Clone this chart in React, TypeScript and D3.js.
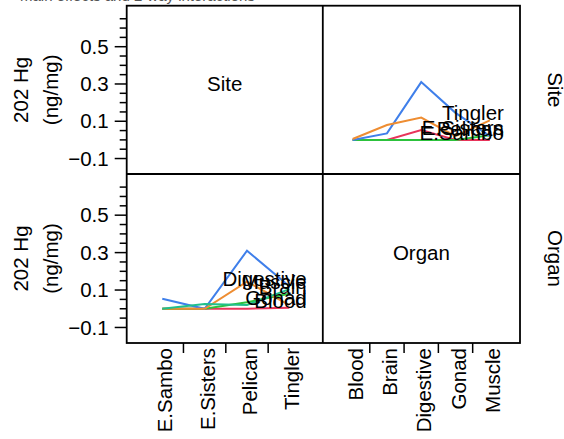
import { useEffect, useRef } from "react";
import * as d3 from "d3";

// cell means of 202 Hg (ng/mg), one array per site, over the organs
const sites = ["E.Sambo", "E.Sisters", "Pelican", "Tingler"];
const organs = ["Blood", "Brain", "Digestive", "Gonad", "Muscle"];
const eSambo = [0, 0, 0.053, 0, 0];
const eSisters = [0, 0, 0, 0, 0.025];
const pelican = [0, 0.035, 0.31, 0.145, 0.02];
const tingler = [0.005, 0.08, 0.12, 0.02, 0.105];
const siteMeans = [eSambo, eSisters, pelican, tingler];

const yMajor = [-0.1, 0.1, 0.3, 0.5];
const yMinor = d3.range(-0.1, 0.651, 0.05);
const palette = ["#e8345a", "#2cc23c", "#3f7fea", "#ee8d32", "#20bf8c"];
const yTitle = ["202 Hg", "(ng/mg)"];

export default function App() {
  const ref = useRef<SVGSVGElement | null>(null);

  useEffect(() => {
    if (!ref.current) return;
    const svg = d3.select(ref.current);
    svg.selectAll("*").remove();

    const font = "'Liberation Sans', Arial, sans-serif";
    const fs = 20.5;
    const x0 = 126.7, x1 = 322.8, x2 = 520;
    const y0 = 5.7, y1 = 174, y2 = 343;

    const yTop = d3.scaleLinear().domain([-0.183, 0.72]).range([y1, y0]);
    const yBot = d3.scaleLinear().domain([-0.183, 0.72]).range([y2, y1]);
    const xSite = d3.scaleLinear().domain([0.16, 4.79]).range([x0, x1]);
    const xOrgan = d3.scaleLinear().domain([0.13, 5.88]).range([x1, x2]);

    // main title, mostly above the page edge
    svg.append("text")
      .attr("x", 20).attr("y", 0.8)
      .attr("fill", "#555")
      .attr("font-family", font).attr("font-size", 15)
      .text("main effects and 2-way interactions");

    // trace panels
    const drawTrace = (
      xs: d3.ScaleLinear<number, number>,
      ys: d3.ScaleLinear<number, number>,
      levels: string[],
      series: number[][],
      names: string[]
    ) => {
      const g = svg.append("g");
      const line = d3.line<number>()
        .x((_, i) => xs(i + 1))
        .y((v) => ys(v));
      series.forEach((vals, k) => {
        g.append("path")
          .attr("d", line(vals))
          .attr("fill", "none")
          .attr("stroke", palette[k])
          .attr("stroke-width", 2);
      });
      series.forEach((vals, k) => {
        g.append("text")
          .attr("x", xs(levels.length + 0.41))
          .attr("y", ys(vals[vals.length - 1]))
          .attr("text-anchor", "end")
          .attr("font-family", font)
          .attr("font-size", fs)
          .text(names[k]);
      });
    };

    // top right: x = Organ, traces = Site
    drawTrace(xOrgan, yTop, organs, siteMeans, sites);
    // bottom left: x = Site, traces = Organ
    const organMeans = organs.map((_, j) => siteMeans.map((s) => s[j]));
    drawTrace(xSite, yBot, sites, organMeans, organs);

    // panel borders
    const frame = svg.append("g").attr("fill", "none").attr("stroke", "#000").attr("stroke-width", 1.8);
    frame.append("rect").attr("x", x0).attr("y", y0).attr("width", x2 - x0).attr("height", y2 - y0);
    frame.append("line").attr("x1", x1).attr("x2", x1).attr("y1", y0).attr("y2", y2);
    frame.append("line").attr("x1", x0).attr("x2", x2).attr("y1", y1).attr("y2", y1);

    // diagonal labels
    svg.append("text").attr("x", (x0 + x1) / 2).attr("y", (y0 + y1) / 2 + 1)
      .attr("text-anchor", "middle").attr("font-family", font).attr("font-size", fs).text("Site");
    svg.append("text").attr("x", (x1 + x2) / 2).attr("y", (y1 + y2) / 2 + 1)
      .attr("text-anchor", "middle").attr("font-family", font).attr("font-size", fs).text("Organ");

    // y axes
    [yTop, yBot].forEach((ys) => {
      const g = svg.append("g");
      yMinor.forEach((v) => {
        const major = yMajor.some((m) => Math.abs(m - v) < 1e-6);
        g.append("line")
          .attr("x1", x0 - (major ? 12 : 7)).attr("x2", x0)
          .attr("y1", ys(v)).attr("y2", ys(v))
          .attr("stroke", "#000").attr("stroke-width", 1.5);
      });
      yMajor.forEach((v) => {
        g.append("text")
          .attr("x", x0 - 18).attr("y", ys(v))
          .attr("dy", "0.35em")
          .attr("text-anchor", "end")
          .attr("font-family", font).attr("font-size", fs)
          .text(d3.format(".1f")(v));
      });
      const cy = (ys.range()[0] + ys.range()[1]) / 2;
      yTitle.forEach((t, i) => {
        g.append("text")
          .attr("transform", `translate(${28 + i * 30},${cy}) rotate(-90)`)
          .attr("text-anchor", "middle")
          .attr("font-family", font).attr("font-size", fs)
          .text(t);
      });
    });

    // x axes
    const drawX = (xs: d3.ScaleLinear<number, number>, levels: string[]) => {
      const g = svg.append("g");
      levels.slice(1).forEach((_, i) => {
        const xp = xs(i + 1.5);
        g.append("line")
          .attr("x1", xp).attr("x2", xp).attr("y1", y2).attr("y2", y2 + 10)
          .attr("stroke", "#000").attr("stroke-width", 1.5);
      });
      levels.forEach((lab, i) => {
        g.append("text")
          .attr("transform", `translate(${xs(i + 1) + 10},${y2 + 5}) rotate(-90)`)
          .attr("text-anchor", "end")
          .attr("font-family", font).attr("font-size", fs)
          .text(lab);
      });
    };
    drawX(xSite, sites);
    drawX(xOrgan, organs);

    // right strip labels
    svg.append("text")
      .attr("transform", `translate(548,${(y0 + y1) / 2}) rotate(90)`)
      .attr("text-anchor", "middle").attr("font-family", font).attr("font-size", fs)
      .text("Site");
    svg.append("text")
      .attr("transform", `translate(548,${(y1 + y2) / 2}) rotate(90)`)
      .attr("text-anchor", "middle").attr("font-family", font).attr("font-size", fs)
      .text("Organ");
  }, []);

  return (
    <svg
      ref={ref}
      width={564}
      height={439}
      style={{ position: "absolute", left: 0, top: 0, background: "#fff" }}
    />
  );
}
